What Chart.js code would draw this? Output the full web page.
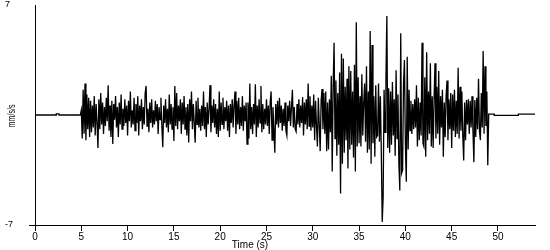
<!DOCTYPE html>
<html>
<head>
<meta charset="utf-8">
<script src="https://cdn.jsdelivr.net/npm/chart.js@4"></script>
<style>
html,body{margin:0;padding:0;background:#fff;}
#wrap{width:550px;height:250px;}
</style>
</head>
<body>
<div id="wrap"><canvas id="c" width="550" height="250"></canvas></div>
<script>
// ---- data ----
const leadTimes  = [0, 2.3, 2.3, 2.6, 2.6, 4.9];
const leadValues = [0, 0, 0.07, 0.07, 0, 0];

const sampleStart = 5.0;   // s
const sampleStep  = 0.1;   // s
const accel = [
  0.3,-1.5,1.6,-1.2,2.0,-1.6,1.3,-0.9,1.1,-1.4,
  0.9,-1.1,0.6,-0.8,1.2,-1.3,0.7,-0.5,-2.1,1.0,
  -0.9,1.4,-0.6,0.8,-1.2,0.5,-0.7,1.1,-0.4,1.9,
  -1.0,0.6,-1.4,0.9,-1.85,0.7,-0.3,1.2,-0.8,0.5,
  -1.4,0.8,-0.6,1.3,-0.9,0.4,-0.7,1.0,-0.5,0.6,
  -1.3,0.9,-0.4,1.5,-0.8,0.3,-0.6,1.1,-1.0,0.7,
  -0.5,1.2,-1.3,0.6,-0.4,1.0,-0.9,0.5,-0.6,1.4,
  1.85,-0.7,0.4,-1.1,0.8,-0.5,1.0,-0.8,0.3,-0.6,
  0.9,-0.4,0.7,-1.2,0.5,-0.3,1.1,-0.7,-2.05,0.6,
  -0.5,1.0,-0.8,0.4,-1.1,1.3,-0.6,0.7,-0.9,0.5,
  -1.65,1.85,-0.7,1.4,-0.9,0.6,-0.4,1.0,-1.2,0.8,
  -0.6,1.2,-0.9,0.5,-1.3,0.7,-1.75,1.0,-0.4,1.5,
  -0.9,0.7,-0.5,-1.76,0.9,-0.6,1.1,-0.8,0.4,-1.0,
  0.6,-0.7,1.5,-0.9,0.5,-1.4,0.8,-0.6,0.4,1.9,
  -1.1,0.6,-0.5,1.0,-0.8,0.7,-1.2,0.4,-1.4,1.5,
  -1.0,0.8,-0.6,1.1,-0.9,0.5,-0.4,0.9,-1.0,0.6,
  -1.4,0.7,-0.5,1.0,-0.8,0.6,1.5,-1.2,0.9,-0.6,
  1.1,-0.9,0.5,-0.7,1.2,-1.0,0.6,-0.4,0.8,-1.85,
  0.8,-1.5,2.0,-0.9,0.5,-1.2,0.7,-0.6,1.95,-1.4,
  0.6,-0.8,1.0,-0.5,1.85,-1.1,0.7,-0.9,0.4,-0.6,
  1.0,-0.7,0.6,-1.2,0.8,1.5,-1.6,0.5,-0.9,-2.4,
  0.7,-0.6,0.9,-0.8,1.1,-0.5,0.6,-1.0,0.4,-0.7,
  0.8,-1.0,-1.3,0.6,-0.4,0.9,-0.7,0.5,1.6,-0.8,
  0.5,-0.9,-1.05,0.7,-0.6,1.0,-0.8,0.6,-0.5,1.15,
  -1.3,0.8,-0.6,1.0,-0.9,2.0,-0.7,1.2,-1.0,0.6,
  -0.8,1.3,-1.6,0.9,-0.7,-2.0,1.1,-0.6,-2.3,0.9,
  1.65,-0.9,1.4,-1.2,1.5,-2.3,0.8,-2.2,1.0,-1.1,
  2.5,-3.6,1.8,4.6,-1.5,2.2,-2.6,1.4,-1.9,2.7,
  -5.0,3.9,-3.1,3.6,-2.4,1.8,-1.6,2.3,-3.4,3.1,
  -2.2,2.8,-1.9,1.5,-2.7,3.2,-3.6,5.9,-2.0,2.4,
  -1.8,1.2,-2.0,2.6,-1.3,0.8,2.0,-1.7,3.1,-2.4,
  1.5,-2.2,5.35,-3.1,4.45,-1.8,1.2,-2.65,1.9,-1.4,
  -1.3,2.0,-1.7,1.2,-2.3,-6.8,-5.2,1.6,-1.1,2.2,
  6.3,-2.1,1.7,-2.4,1.5,-1.9,2.1,-1.3,1.0,-2.6,
  2.85,-1.5,1.3,-3.1,-4.8,5.2,-3.7,-3.5,2.0,3.5,
  -1.8,-4.25,3.7,-2.2,1.6,-1.0,0.9,-1.2,0.7,-0.9,
  1.0,-0.8,1.9,-2.0,1.1,-1.6,0.8,-1.3,4.6,-1.8,
  -2.0,2.4,-2.65,4.0,-1.6,1.5,-1.2,3.3,-2.0,1.2,
  -2.1,1.0,3.3,-1.5,1.8,-1.2,2.8,-1.9,1.2,-0.8,
  1.6,-2.65,0.8,-1.4,1.2,2.2,-1.6,1.0,-0.9,1.4,
  -2.1,1.3,-1.0,1.6,-1.4,0.9,-1.2,3.0,-1.5,1.8,
  -1.0,1.5,-1.3,-2.9,0.8,-1.6,0.95,-0.6,1.0,-1.2,
  0.9,-0.8,1.2,-1.0,-3.0,0.95,-1.4,1.1,-0.9,2.3,
  -1.0,-1.6,1.4,-0.8,4.07,-1.2,3.1,-0.7,1.5,-3.2
];

const tailTimes  = [49.0, 49.6, 49.6, 52.2, 52.2, 54.0];
const tailValues = [0.05, 0.05, -0.02, -0.02, 0.05, 0.05];

const xTicks = [0, 5, 10, 15, 20, 25, 30, 35, 40, 45, 50];
const yTicks = [-7, 7];
const xMin = 0, xMax = 54, yMin = -7, yMax = 7;
const xTitle = 'Time (s)';
const yTitle = 'mm/s/s';

// ---- build the dataset ----
const points = [];
leadTimes.forEach((t, i) => points.push({x: t, y: leadValues[i]}));
accel.forEach((v, i) => points.push({x: +(sampleStart + i * sampleStep).toFixed(2), y: v}));
tailTimes.forEach((t, i) => points.push({x: t, y: tailValues[i]}));

const FONT = '"Liberation Sans", Arial, sans-serif';

const titlePlugin = {
  id: 'axisTitles',
  afterDraw(chart) {
    const c = chart.ctx;
    c.save();
    c.fillStyle = '#000';
    c.textAlign = 'center';
    c.textBaseline = 'middle';
    c.font = '10px ' + FONT;
    c.fillText(xTitle, 250, 245.5);
    c.translate(12.5, 116);
    c.rotate(-Math.PI / 2);
    c.font = '10px ' + FONT;
    c.fillText(yTitle, 0, 0, 23);
    c.restore();
  }
};

new Chart(document.getElementById('c'), {
  type: 'line',
  data: {
    datasets: [{
      data: points,
      borderColor: '#000',
      borderWidth: 1.3,
      borderJoinStyle: 'miter',
      pointRadius: 0,
      tension: 0,
      fill: false
    }]
  },
  options: {
    responsive: false,
    devicePixelRatio: 1,
    animation: false,
    events: [],
    layout: {padding: {left: 5, top: 5, right: 15, bottom: 0}},
    plugins: {legend: {display: false}, tooltip: {enabled: false}, title: {display: false}},
    scales: {
      x: {
        type: 'linear',
        min: xMin, max: xMax,
        afterBuildTicks: s => { s.ticks = xTicks.map(v => ({value: v})); },
        afterFit: s => { s.height = 25; s.paddingLeft = 0; s.paddingRight = 0; },
        grid: {display: true, drawOnChartArea: false, drawTicks: true, tickLength: 6, color: '#000', tickColor: '#000', lineWidth: 1},
        border: {display: true, color: '#000', width: 1},
        ticks: {color: '#000', font: {family: FONT, size: 10}, padding: 0, maxRotation: 0, autoSkip: false}
      },
      y: {
        type: 'linear',
        min: yMin, max: yMax,
        afterBuildTicks: s => { s.ticks = yTicks.map(v => ({value: v})); },
        afterFit: s => { s.width = 30; s.paddingTop = 0; s.paddingBottom = 0; },
        grid: {
          display: true, drawOnChartArea: false, drawTicks: true, tickLength: 6, lineWidth: 1,
          color: '#000',
          tickColor: ctx => (ctx.tick && ctx.tick.value === -7) ? '#000' : 'rgba(0,0,0,0)'
        },
        border: {display: true, color: '#000', width: 1},
        ticks: {color: '#000', font: {family: FONT, size: 9}, crossAlign: 'far', padding: 0}
      }
    }
  },
  plugins: [titlePlugin]
});
</script>
</body>
</html>
